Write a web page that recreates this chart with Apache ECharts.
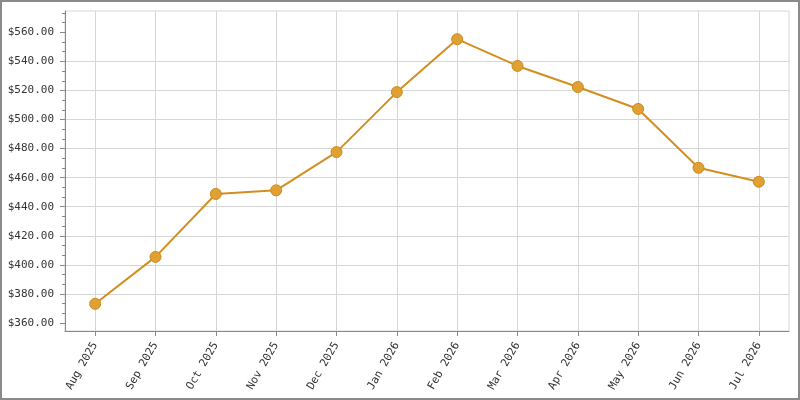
<!DOCTYPE html>
<html>
<head>
<meta charset="utf-8">
<script src="https://cdn.jsdelivr.net/npm/echarts@6/dist/echarts.min.js"></script>
<style>
html,body{margin:0;padding:0;background:#fff;}
#frame{position:absolute;left:0;top:0;width:796px;height:396px;border:2px solid #8a8a8a;background:#fff;}
#chart{width:796px;height:396px;}
</style>
</head>
<body>
<div id="frame"><div id="chart"></div></div>
<script>
const categories = ['Aug 2025','Sep 2025','Oct 2025','Nov 2025','Dec 2025','Jan 2026','Feb 2026','Mar 2026','Apr 2026','May 2026','Jun 2026','Jul 2026'];
const prices = [373.2, 405.5, 448.8, 451.3, 477.6, 518.9, 555.3, 536.9, 522.4, 507.3, 466.8, 457.2];
const yTicks = [360, 380, 400, 420, 440, 460, 480, 500, 520, 540, 560];
const yMinorTicks = [366.67, 373.33, 386.67, 393.33, 406.67, 413.33, 426.67, 433.33, 446.67, 453.33, 466.67, 473.33, 486.67, 493.33, 506.67, 513.33, 526.67, 533.33, 546.67, 553.33, 566.67, 573.33];
const yMin = 354.5;
const yMax = 574.7;

const chart = echarts.init(document.getElementById('chart'), null, {renderer:'canvas'});
const font = 'DejaVu Sans Mono';
const gridColor = '#d6d6d6';
chart.setOption({
  animation:false,
  backgroundColor:'#fff',
  grid:{left:63, right:9, top:9, bottom:67, show:true, borderColor:gridColor, borderWidth:1},
  xAxis:{
    type:'category', data:categories, boundaryGap:true,
    axisLine:{lineStyle:{color:'#888', width:1}},
    axisTick:{show:true, alignWithLabel:true, length:5, lineStyle:{color:'#888'}},
    axisLabel:{rotate:60, color:'#333', fontFamily:font, fontSize:11, margin:12, interval:0},
    splitLine:{show:true, alignWithLabel:true, lineStyle:{color:gridColor, width:1}}
  },
  yAxis:[{
    type:'value', min:yMin, max:yMax,
    axisLine:{show:true, lineStyle:{color:'#888', width:1}},
    axisTick:{show:true, length:5, customValues:yTicks, lineStyle:{color:'#888'}},
    axisLabel:{color:'#333', fontFamily:font, fontSize:11, margin:11, customValues:yTicks,
      formatter:v=>'$'+Number(v).toFixed(2)},
    splitLine:{show:true, showMinLine:false, showMaxLine:false, lineStyle:{color:gridColor, width:1}}
  },{
    type:'value', min:yMin, max:yMax, position:'left',
    axisLine:{show:false},
    axisTick:{show:true, length:3, customValues:yMinorTicks, lineStyle:{color:'#888'}},
    axisLabel:{show:false},
    splitLine:{show:false}
  }],
  series:[{
    type:'line', data:prices, yAxisIndex:0,
    symbol:'circle', symbolSize:11,
    lineStyle:{color:'#d28f1f', width:2},
    itemStyle:{color:'#e0a132', borderColor:'#c98b22', borderWidth:1}
  }]
});
</script>
</body>
</html>
